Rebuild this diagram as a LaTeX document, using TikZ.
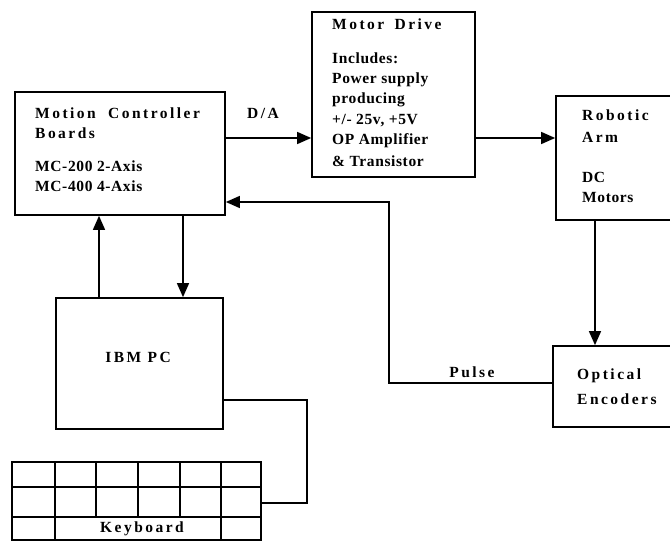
\documentclass[tikz,border=0pt]{standalone}
\usepackage{fontspec}
\setmainfont{Liberation Serif}
\newfontfamily\ttlfont[LetterSpace=16]{Liberation Serif}
\newfontfamily\dscfont[LetterSpace=4]{Liberation Serif}
\usetikzlibrary{arrows.meta}
\begin{document}
\begin{tikzpicture}[x=1pt,y=-1pt,
  box/.style={draw,line width=1.7pt,inner sep=0pt,rectangle},
  ttl/.style={inner sep=0pt,font=\ttlfont\bfseries\fontsize{15.5}{20}\selectfont},
  dsc/.style={inner sep=0pt,anchor=west,font=\dscfont\bfseries\fontsize{15.5}{20}\selectfont},
  conn/.style={line width=1.4pt},
  arr/.style={conn,-{Triangle[length=14pt,width=12pt]}}]
\useasboundingbox (0,0) rectangle (670,544);
% boxes
\node[box,minimum width=210pt,minimum height=123pt] (mc) at (120,153.5) {};
\node[box,minimum width=163pt,minimum height=165pt] (md) at (393.5,94.5) {};
\node[box,minimum width=130pt,minimum height=124pt] (ra) at (621,158) {};
\node[box,minimum width=130pt,minimum height=81pt] (oe) at (618,386.5) {};
\node[box,minimum width=167pt,minimum height=131pt] (pc) at (139.5,363.5) {};
\node[box,minimum width=249pt,minimum height=78pt] (kb) at (136.5,501) {};
% keyboard grid
\draw[line width=1.5pt] (kb.west |- 0,487) -- (kb.east |- 0,487);
\draw[line width=1.5pt] (kb.west |- 0,517) -- (kb.east |- 0,517);
\foreach \cx in {55,221}{\draw[line width=1.5pt] (\cx,462) -- (\cx,540);}
\foreach \cx in {96,138,180}{\draw[line width=1.5pt] (\cx,462) -- (\cx,517);}
% texts
\node[ttl,anchor=west] (t1) at (35,113) {Motion\hspace{6pt} Controller};
\node[ttl,anchor=west] (t2) at (35,133) {Boards};
\node[dsc] (t3) at (35,166) {MC-200 2-Axis};
\node[dsc] (t4) at (35,186) {MC-400 4-Axis};
\node[ttl] (da) at (263,113) {D/A};
\node[ttl,anchor=west] (t5) at (332,24) {Motor\hspace{4pt} Drive};
\node[dsc] (t6) at (332,58) {Includes:};
\node[dsc] (t7) at (332,80) {Power supply};
\node[dsc] (t8) at (332,100) {producing};
\node[dsc] (t9) at (332,121) {+/- 25v, +5V};
\node[dsc] (t10) at (332,141) {OP Amplifier};
\node[dsc] (t11) at (332,161) {\& Transistor};
\node[ttl,anchor=west] (t12) at (582,115) {Robotic};
\node[ttl,anchor=west] (t13) at (582,137) {Arm};
\node[dsc] (t14) at (582,177) {DC};
\node[dsc] (t15) at (582,197) {Motors};
\node[ttl,anchor=west] (t16) at (577,376) {Optical};
\node[ttl,anchor=west] (t17) at (577,399) {Encoders};
\node[ttl] (pulse) at (472,372) {Pulse};
\node[ttl] (t18) at (138,357) {IBM PC};
\node[ttl] (t19) at (142,529) {Keyboard};
% connector coordinates
\coordinate (yda) at (0,138);
\coordinate (ypl) at (0,202);
\coordinate (xpl) at (389,0);
\coordinate (ype) at (0,383);
\coordinate (xup) at (99,0);
\coordinate (xdn) at (183,0);
\coordinate (xra) at (595,0);
\coordinate (ykb) at (0,503);
\coordinate (ypc) at (0,400);
\coordinate (xkb) at (307,0);
% connectors
\draw[arr] (mc.east |- yda) -- (md.west |- yda);
\draw[arr] (md.east |- yda) -- (ra.west |- yda);
\draw[arr] (ra.south -| xra) -- (oe.north -| xra);
\draw[arr] (oe.west |- ype) -- (xpl |- ype) -- (xpl |- ypl) -- (mc.east |- ypl);
\draw[arr] (pc.north -| xup) -- (mc.south -| xup);
\draw[arr] (mc.south -| xdn) -- (pc.north -| xdn);
\draw[conn] (kb.east |- ykb) -- (xkb |- ykb) -- (xkb |- ypc) -- (pc.east |- ypc);
\end{tikzpicture}
\end{document}
